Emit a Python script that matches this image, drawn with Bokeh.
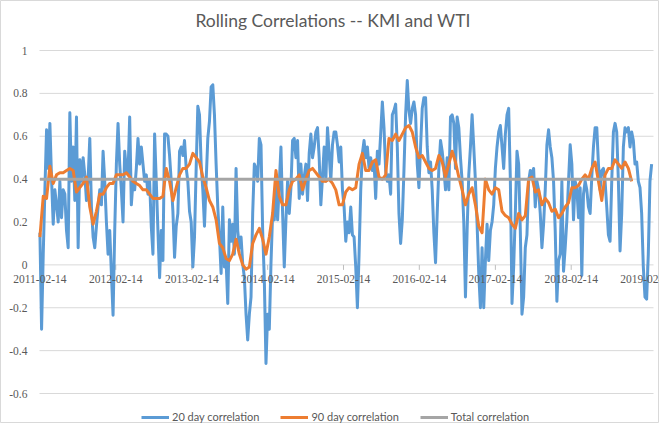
import math
import pandas as pd
from bokeh.plotting import figure
from bokeh.models import (Range1d, Legend, LegendItem, LabelSet, Label,
                          ColumnDataSource)
from bokeh.embed import file_html
from bokeh.resources import INLINE

title_text = "Rolling Correlations -- KMI and WTI"
start_date = "2011-02-14"
step20 = "8D"
step90 = "16D"

corr20 = [
    0.15, -0.30, 0.05, 0.35, 0.63, 0.45, 0.66, 0.40, 0.19, 0.35,
    0.28, 0.20, 0.39, 0.22, 0.35, 0.33, 0.16, 0.08, 0.71, 0.39,
    0.55, 0.30, 0.69, 0.08, 0.49, 0.39, 0.50, 0.42, 0.30, 0.40,
    0.59, 0.27, 0.13, 0.08, 0.18, 0.27, 0.35, 0.28, 0.53, 0.39,
    0.20, 0.05, 0.16, -0.04, -0.235, 0.16, 0.47, 0.66, 0.47, 0.35,
    0.20, 0.53, 0.45, 0.42, 0.69, 0.28, 0.39, 0.35, 0.45, 0.59,
    0.47, 0.55, 0.47, 0.39, 0.42, 0.33, 0.39, 0.18, 0.05, 0.61,
    0.39, 0.16, -0.06, 0.16, 0.02, 0.61, 0.61, 0.60, 0.51, 0.39,
    0.25, 0.035, 0.18, 0.24, 0.53, 0.55, 0.51, 0.58, 0.45, 0.39,
    0.25, 0.20, -0.01,
    0.13, 0.45, 0.74, 0.70, 0.47, 0.35, 0.18, 0.39, 0.59, 0.67,
    0.83, 0.84, 0.70, 0.47, 0.27, 0.13, -0.04, 0.27, -0.01, 0.02,
    -0.18, 0.21, 0.11, 0.19, 0.05, 0.45, 0.16, 0.08, 0.13, 0.005,
    -0.06, -0.23, -0.35, -0.23, -0.15, 0.24, 0.47, 0.45, 0.39, 0.59,
    0.56, 0.16, -0.07, -0.46, -0.23, -0.30, 0.005, 0.24, 0.21, 0.39,
    0.21, 0.38, 0.55, 0.24, -0.01, 0.21, 0.39, 0.24, 0.36, 0.58,
    0.59, 0.50, 0.58, 0.31, 0.47, 0.33, 0.41, 0.47, 0.30, 0.52,
    0.61, 0.50, 0.55, 0.62, 0.64, 0.50, 0.28, 0.41, 0.55, 0.39,
    0.64, 0.52, 0.39, 0.56, 0.62, 0.62, 0.56, 0.48, 0.55, 0.35,
    0.27, 0.11, 0.20, 0.15,
    0.27, 0.14, 0.13, -0.01, -0.20, 0.05, 0.35, 0.52, 0.58, 0.50,
    0.55, 0.45, 0.50, 0.44, 0.48, 0.31, 0.53, 0.47, 0.61, 0.76,
    0.64, 0.44, 0.39, 0.42, 0.33, 0.70, 0.72, 0.75, 0.55, 0.24,
    0.10, 0.21, 0.44, 0.70, 0.86, 0.72, 0.66, 0.73, 0.76, 0.70,
    0.47, 0.36, 0.55, 0.73, 0.78, 0.78, 0.55, 0.43, 0.48, 0.35,
    0.15, 0.01, 0.24, 0.45, 0.58, 0.53, 0.45, 0.35, 0.50, 0.35,
    0.69, 0.70, 0.66, 0.45, 0.69, 0.64, 0.50, 0.39, 0.20, -0.15,
    0.16, 0.42, 0.55, 0.70, 0.55, 0.39, 0.19, -0.04, -0.20, 0.08,
    -0.20, 0.02, 0.19, 0.02, 0.16, 0.20, 0.28, 0.45, 0.55, 0.62,
    0.65, 0.55, 0.45,
    0.61, 0.70, 0.73, 0.40, -0.18, -0.01, 0.24, 0.53, 0.47, 0.16,
    -0.23, -0.15, 0.08, 0.14, 0.39, 0.44, 0.42, 0.45, 0.27, 0.39,
    0.35, 0.24, 0.08, 0.19, 0.35, 0.56, 0.63, 0.55, 0.50, 0.39,
    0.16, -0.17, 0.02, 0.05, 0.39, -0.03, 0.08, 0.21, 0.39, 0.56,
    0.47, 0.21, 0.39, 0.36, 0.22, 0.36, -0.05, 0.33, 0.39, 0.35,
    0.27, 0.24, 0.41, 0.55, 0.64, 0.64, 0.47, 0.35, 0.44, 0.45,
    0.39, 0.27, 0.14, 0.11, 0.39, 0.62, 0.66, 0.62, 0.39, 0.065,
    0.24, 0.55, 0.64, 0.62, 0.64, 0.55, 0.62, 0.58, 0.47, 0.48,
    0.39, 0.36, 0.24, -0.01, -0.15, -0.16, 0.05, 0.39, 0.47,
]

corr90 = [
    0.13, 0.32, 0.31, 0.46, 0.38, 0.42, 0.43, 0.43, 0.44, 0.45,
    0.44, 0.34, 0.36, 0.38, 0.41, 0.27, 0.19, 0.25, 0.33, 0.33,
    0.36, 0.38, 0.38, 0.42, 0.42, 0.42, 0.43, 0.41, 0.39, 0.38,
    0.37, 0.35, 0.35, 0.33, 0.31, 0.31, 0.31, 0.32, 0.45, 0.39,
    0.30, 0.36, 0.42, 0.45, 0.45, 0.47, 0.52,
    0.50, 0.48, 0.41, 0.36, 0.30, 0.27, 0.21, 0.10, 0.08, 0.03,
    0.02, 0.05, 0.12, 0.05, 0.00, -0.02, -0.01, 0.10, 0.14, 0.17,
    0.12, 0.05, 0.13, 0.24, 0.44, 0.32, 0.28, 0.28, 0.35, 0.39,
    0.40, 0.42, 0.35, 0.40, 0.44, 0.45, 0.43, 0.41, 0.39, 0.39,
    0.40, 0.38, 0.35, 0.28, 0.28, 0.34, 0.36,
    0.35, 0.36, 0.47, 0.52, 0.44, 0.44, 0.48, 0.49, 0.41, 0.40,
    0.42, 0.59, 0.58, 0.61, 0.58, 0.61, 0.64, 0.65, 0.62, 0.55,
    0.50, 0.51, 0.48, 0.45, 0.44, 0.45, 0.51, 0.48, 0.41, 0.47,
    0.53, 0.48, 0.41, 0.35, 0.28, 0.33, 0.36, 0.28, 0.18, 0.15,
    0.40, 0.35, 0.33, 0.36, 0.35, 0.25,
    0.23, 0.22, 0.19, 0.17, 0.24, 0.21, 0.23, 0.40, 0.41, 0.34,
    0.35, 0.28, 0.31, 0.29, 0.25, 0.26, 0.22, 0.24, 0.27, 0.29,
    0.36, 0.36, 0.37, 0.40, 0.42, 0.40, 0.45, 0.48, 0.39, 0.30,
    0.42, 0.45, 0.45, 0.49, 0.47, 0.45, 0.48, 0.45, 0.39,
]

total_corr = [0.40, 0.40]

x_tick_labels = ["2011-02-14", "2012-02-14", "2013-02-14", "2014-02-14",
                 "2015-02-14", "2016-02-14", "2017-02-14", "2018-02-14",
                 "2019-02-14"]
y_ticks = [-0.6, -0.4, -0.2, 0.0, 0.2, 0.4, 0.6, 0.8, 1.0]
y_tick_labels = ["-0.6", "-0.4", "-0.2", "0", "0.2", "0.4", "0.6", "0.8", "1"]

series_names = ["20 day correlation", "90 day correlation", "Total correlation"]
series_colors = ["#5B9BD5", "#ED7D31", "#A5A5A5"]

d20 = pd.date_range(start_date, periods=len(corr20), freq=step20)
d90 = pd.date_range(start_date, periods=len(corr90), freq=step90)
dtot = [d90[0], d90[-1]]
x_tick_dates = pd.to_datetime(x_tick_labels)

FONT = "Lato"
TXT = "#595959"
GRID = "#D9D9D9"

# ---- layout (figure pixels) ----
W, H = 659, 423
AREA_L, AREA_R = 39, 653      # plot-area left / right
AREA_T, AREA_B = 50, 393      # plot-area top (y=1) / bottom (y=-0.6)

area_x0 = d20[0] - pd.Timedelta(days=2)
area_x1 = d20[-1] + pd.Timedelta(days=9)
ppd = (AREA_R - AREA_L) / ((area_x1 - area_x0) / pd.Timedelta(days=1))
x_start = area_x0 - pd.Timedelta(days=AREA_L / ppd)
x_end = area_x1 + pd.Timedelta(days=(W - AREA_R) / ppd)

ppu = (AREA_B - AREA_T) / (y_ticks[-1] - y_ticks[0])
y_end = y_ticks[-1] + AREA_T / ppu
y_start = y_ticks[0] - (H - AREA_B) / ppu

p = figure(width=W, height=H, x_axis_type="datetime",
           output_backend="svg", toolbar_location=None,
           x_range=Range1d(x_start, x_end), y_range=Range1d(y_start, y_end),
           min_border=0)
p.xaxis.visible = False
p.yaxis.visible = False
p.grid.visible = False
p.outline_line_color = GRID
p.background_fill_color = "white"
p.border_fill_color = "white"

# horizontal gridlines over the plot area
p.segment(x0=[area_x0] * len(y_ticks), x1=[area_x1] * len(y_ticks),
          y0=y_ticks, y1=y_ticks, line_color=GRID, line_width=1)

# y tick labels
ysrc = ColumnDataSource(dict(x=[area_x0] * len(y_ticks), y=y_ticks, text=y_tick_labels))
p.add_layout(LabelSet(x="x", y="y", text="text", source=ysrc, x_offset=-12,
                      text_align="right", text_baseline="middle",
                      text_font=FONT, text_font_size="11.5px", text_color=TXT))

# category axis crossing at y = 0: tick marks + labels
tick_src = ColumnDataSource(dict(x=x_tick_dates, y=[0.0] * len(x_tick_labels),
                                 text=x_tick_labels))
p.ray(x="x", y="y", source=tick_src, length=5, length_units="screen",
      angle=-math.pi / 2, line_color="#BFBFBF", line_width=1)
p.add_layout(LabelSet(x="x", y="y", text="text", source=tick_src,
                      y_offset=-10, text_align="center", text_baseline="top",
                      text_font=FONT, text_font_size="11.5px", text_color=TXT))

r20 = p.line(d20, corr20, line_color=series_colors[0], line_width=3, line_join="round")
r90 = p.line(d90, corr90, line_color=series_colors[1], line_width=3, line_join="round")
rt = p.line(dtot, total_corr, line_color=series_colors[2], line_width=3)

# title
p.add_layout(Label(x=332.5, y=H - 20, x_units="screen", y_units="screen",
                   text=title_text, text_align="center", text_baseline="middle",
                   text_font=FONT, text_font_size="17.5px", text_color=TXT))

legend = Legend(items=[LegendItem(label=series_names[0], renderers=[r20]),
                       LegendItem(label=series_names[1], renderers=[r90]),
                       LegendItem(label=series_names[2], renderers=[rt])],
                orientation="horizontal", location=(141, 0),
                glyph_width=28, glyph_height=12, label_standoff=3, spacing=21,
                padding=0, margin=0, border_line_color=None,
                background_fill_alpha=0,
                label_text_font=FONT, label_text_font_size="11px",
                label_text_color=TXT, label_height=12)
p.add_layout(legend)

open("out.html", "w").write(file_html(p, INLINE))
